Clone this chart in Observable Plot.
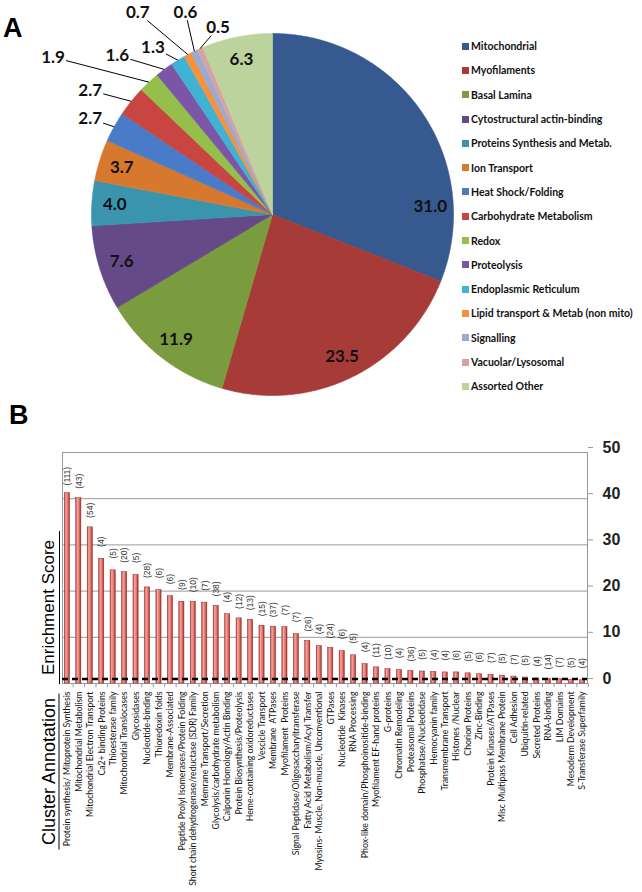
<!DOCTYPE html>
<html><head><meta charset="utf-8">
<script src="https://cdn.jsdelivr.net/npm/d3@7"></script>
<script src="https://cdn.jsdelivr.net/npm/@observablehq/plot@0.6"></script>
<style>
html,body{margin:0;padding:0;background:#fff;overflow:hidden;}
#root{position:relative;width:642px;height:892px;background:#fff;}
#root svg{position:absolute;left:0;}
.panel{position:absolute;font:bold 27px "Liberation Sans",Arial,sans-serif;color:#000;line-height:1;}
.legend{position:absolute;left:462px;top:34px;font:bold 10.5px Lato,"Open Sans",sans-serif;color:#111;}
.legend .row{display:flex;align-items:center;height:24.3px;white-space:nowrap;}
.legend .sw{width:7px;height:7px;margin-right:2px;flex:none;}
.vlab{position:absolute;height:20px;line-height:20px;text-align:center;font:17px "Liberation Sans",Arial,sans-serif;color:#000;border-bottom:1.5px solid #000;transform:rotate(-90deg);transform-origin:50% 50%;white-space:nowrap;}
</style></head>
<body>
<svg width="0" height="0" style="position:absolute">
  <defs>
    <linearGradient id="barGrad" x1="0" x2="1" y1="0" y2="0">
      <stop offset="0" stop-color="#b8423e"/>
      <stop offset="0.3" stop-color="#f4a5a0"/>
      <stop offset="0.65" stop-color="#e8756f"/>
      <stop offset="1" stop-color="#9a2e2a"/>
    </linearGradient>
  </defs>
</svg>
<div id="root"></div>
<script>
// ---------- Panel A data ----------
const pieCategories = ["Mitochondrial","Myofilaments","Basal Lamina","Cytostructural actin-binding","Proteins Synthesis and Metab.","Ion Transport","Heat Shock/Folding","Carbohydrate Metabolism","Redox","Proteolysis","Endoplasmic Reticulum","Lipid transport & Metab (non mito)","Signalling","Vacuolar/Lysosomal","Assorted Other"];
const pieValues = [31.0,23.5,11.9,7.6,4.0,3.7,2.7,2.7,1.9,1.6,1.3,0.7,0.6,0.5,6.3];
const pieColors = ["#36598f","#a63b37","#7b9b3f","#654a87","#3b94ae","#d6792f","#4a7bc8","#c94542","#94bf4b","#7c56a6","#40b2d3","#f5923e","#97abd4","#d7a2a2","#bdd39d"];
// label placement: inside label angle override (degrees) and callout pixel nudges
const insideAngleOverride = {"Mitochondrial": 87};
const calloutNudgeX = [-24,-41,-96,-47,-25,-50,-9,18];
const calloutNudgeY = [-8,-11,-25,-14,-13,-42,-39,-21];

// ---------- Panel B data ----------
const clusters = ["Protein synthesis/ Mitoprotein Synthesis","Mitochondrial Metabolism","Mitochondrial Electron Transport","Ca2+ binding Proteins","Thioesterase family","Mitochondrial Translocases","Glycosidases","Nucleotide-binding","Thioredoxin folds","Membrane-Associated","Peptide Prolyl Isomerases/Protein Folding","Short chain dehydrogenase/reductase (SDR) Family","Memrane Transport/Secretion","Glycolysis/carbohydrate metabolism","Calponin Homology/Actin Binding","Protein Biosynthesis/Proteolysis","Heme-containing oxidoreductases","Vescicle Transport","Membrane  ATPases","Myofilament  Proteins","Signal Peptidase/Oligosaccharyltransferase","Fatty Acid Metabolism/Acyl Transfer","Myosins- Muscle, Non-muscle, Unconventional","GTPases","Nucleotide  Kinases","RNA Processing","Phox-like domain/Phosphoinositide-binding","Myofilament EF-hand proteins","G-proteins","Chromatin Remodeling","Proteasomal Proteins","Phosphatase/Nucleotidase","Hemocyanin family","Transmembrane Transport","Histones /Nuclear","Chorion Proteins","Zinc-Binding","Protein Kinases/ATPases","Misc Multipass Membrane Protein","Cell Adhesion","Ubiquitin-related","Secreted Proteins","RNA-binding","LIM Domains","Mesoderm Development","S-Transferase Superfamily"];
const scores = [41.2,40.1,33.8,27.0,24.5,24.1,23.5,20.8,20.2,18.9,17.7,17.7,17.5,16.8,15.0,14.1,13.8,12.5,12.3,12.2,10.7,9.2,8.1,7.7,7.0,6.1,4.2,3.5,3.1,2.9,2.7,2.6,2.5,2.4,2.4,2.2,2.0,1.9,1.7,1.5,1.3,1.1,1.0,0.9,0.8,0.7];
const counts = [111,43,54,4,5,20,5,28,6,6,9,10,7,38,4,12,13,15,37,7,7,26,4,24,6,5,4,11,10,4,36,5,4,4,6,5,6,7,5,7,5,4,14,7,5,4];
const yTicks = [0,10,20,30,40,50];
const threshold = 1.0;

const root = document.getElementById("root");

// ---------- Pie (Panel A) ----------
const R = 181;
const arcs = d3.pie().sort(null).value(d => d)(pieValues);
const slicePts = [];
arcs.forEach((a, i) => {
  const cat = pieCategories[i];
  slicePts.push({cat, x: 0, y: 0});
  const n = Math.max(2, Math.ceil((a.endAngle - a.startAngle) / (Math.PI / 360)));
  for (let k = 0; k <= n; k++) {
    const t = a.startAngle + (a.endAngle - a.startAngle) * k / n;
    slicePts.push({cat, x: Math.sin(t), y: Math.cos(t)});
  }
  slicePts.push({cat, x: 0, y: 0});
});
const fmt = d3.format(".1f");
const insideLabels = arcs.filter(a => a.value >= 3.5).map(a => {
  const cat = pieCategories[a.index];
  const m = cat in insideAngleOverride ? insideAngleOverride[cat] * Math.PI / 180 : (a.startAngle + a.endAngle) / 2;
  return {x: 0.873 * Math.sin(m), y: 0.873 * Math.cos(m), t: fmt(a.value)};
});
const callouts = arcs.filter(a => a.value < 3.5).map((a, j) => {
  const m = (a.startAngle + a.endAngle) / 2;
  const ex = Math.sin(m), ey = Math.cos(m);
  const lx = ex + calloutNudgeX[j] / R, ly = ey - calloutNudgeY[j] / R;
  const ddx = Math.abs(ex - lx) * R, ddy = Math.abs(ey - ly) * R;
  const t = Math.min(ddx ? 13 / ddx : 1, ddy ? 8 / ddy : 1);
  return {lx, ly, t: fmt(a.value), x1: lx + t * (ex - lx), y1: ly + t * (ey - ly), x2: ex, y2: ey};
});

const pie = Plot.plot({
  width: 642, height: 425,
  marginLeft: 91, marginRight: 189, marginTop: 33, marginBottom: 30,
  x: {domain: [-1, 1], axis: null},
  y: {domain: [-1, 1], axis: null},
  color: {domain: pieCategories, range: pieColors},
  style: {background: "transparent", overflow: "visible"},
  marks: [
    Plot.line(slicePts, {x: "x", y: "y", z: "cat", fill: "cat", stroke: "cat", strokeWidth: 0.6, curve: "linear"}),
    Plot.link(callouts, {x1: "x1", y1: "y1", x2: "x2", y2: "y2", stroke: "#000", strokeWidth: 1}),
    Plot.text(insideLabels, {x: "x", y: "y", text: "t", fontSize: 17, fontWeight: "bold", fontFamily: "Lato, 'Open Sans', sans-serif", fill: "#111"}),
    Plot.text(callouts, {x: "lx", y: "ly", text: "t", fontSize: 17, fontWeight: "bold", fontFamily: "Lato, 'Open Sans', sans-serif", fill: "#111"})
  ]
});
pie.style.top = "0px";
root.appendChild(pie);

// legend
const leg = document.createElement("div");
leg.className = "legend";
pieCategories.forEach((c, i) => {
  const row = document.createElement("div"); row.className = "row";
  const sw = document.createElement("span"); sw.className = "sw"; sw.style.background = pieColors[i];
  const tx = document.createElement("span"); tx.textContent = c;
  row.appendChild(sw); row.appendChild(tx); leg.appendChild(row);
});
root.appendChild(leg);

// ---------- Bars (Panel B) ----------
const bars = clusters.map((c, i) => ({cluster: c, score: scores[i], n: counts[i]}));
const W = 642, ML = 62, MR = 55, PI = 0.55, PO = 0.2;
const step = (W - ML - MR) / (clusters.length - PI + 2 * PO);
const barChart = Plot.plot({
  width: W, height: 467,
  marginLeft: ML, marginRight: MR, marginTop: 27, marginBottom: 209,
  x: {domain: clusters, paddingInner: PI, paddingOuter: PO, round: false, axis: null},
  y: {domain: [0, 50], axis: null},
  style: {background: "transparent", overflow: "visible"},
  marks: [
    Plot.gridY(yTicks, {stroke: "#999", strokeOpacity: 1}),
    Plot.frame({stroke: "#999"}),
    Plot.ruleX(clusters, {x: d => d, dx: step / 2, y1: 0, y2: -0.9, stroke: "#999"}),
    Plot.barY(bars, {x: "cluster", y: "score", fill: "url(#barGrad)", stroke: "#8e2a27", strokeWidth: 0.5}),
    Plot.ruleY([threshold], {stroke: "#000", strokeWidth: 2.5, strokeDasharray: "6,4"}),
    Plot.text(bars, {x: "cluster", y: "score", text: d => `(${d.n})`, rotate: -90, dy: -17, fontSize: 8.5, fill: "#333", fontFamily: "'Liberation Sans', Arial, sans-serif"}),
    Plot.axisX({tickRotate: -90, tickSize: 0, tickPadding: 8, fontSize: 8.7, fontFamily: "Lato, 'Open Sans', sans-serif", fill: "#111", label: null}),
    Plot.axisY(yTicks, {anchor: "right", tickSize: 5, tickPadding: 10, fontSize: 16, fontWeight: "bold", textAnchor: "start", dy: -5, label: null, stroke: "#999", fill: "#222", fontFamily: "'Liberation Sans', Arial, sans-serif"})
  ]
});
barChart.style.top = "425px";
root.appendChild(barChart);

// panel letters and side titles
function addDiv(cls, text, css) {
  const d = document.createElement("div"); d.className = cls; d.textContent = text;
  Object.assign(d.style, css); root.appendChild(d); return d;
}
addDiv("panel", "A", {left: "3px", top: "15px"});
addDiv("panel", "B", {left: "9px", top: "402px"});
addDiv("vlab", "Enrichment Score", {width: "153px", left: (49 - 76.5) + "px", top: (606.5 - 10) + "px"});
addDiv("vlab", "Cluster Annotation", {width: "156px", left: (49 - 78) + "px", top: (770.5 - 10) + "px", fontSize: "18px"});
</script>
</body></html>
